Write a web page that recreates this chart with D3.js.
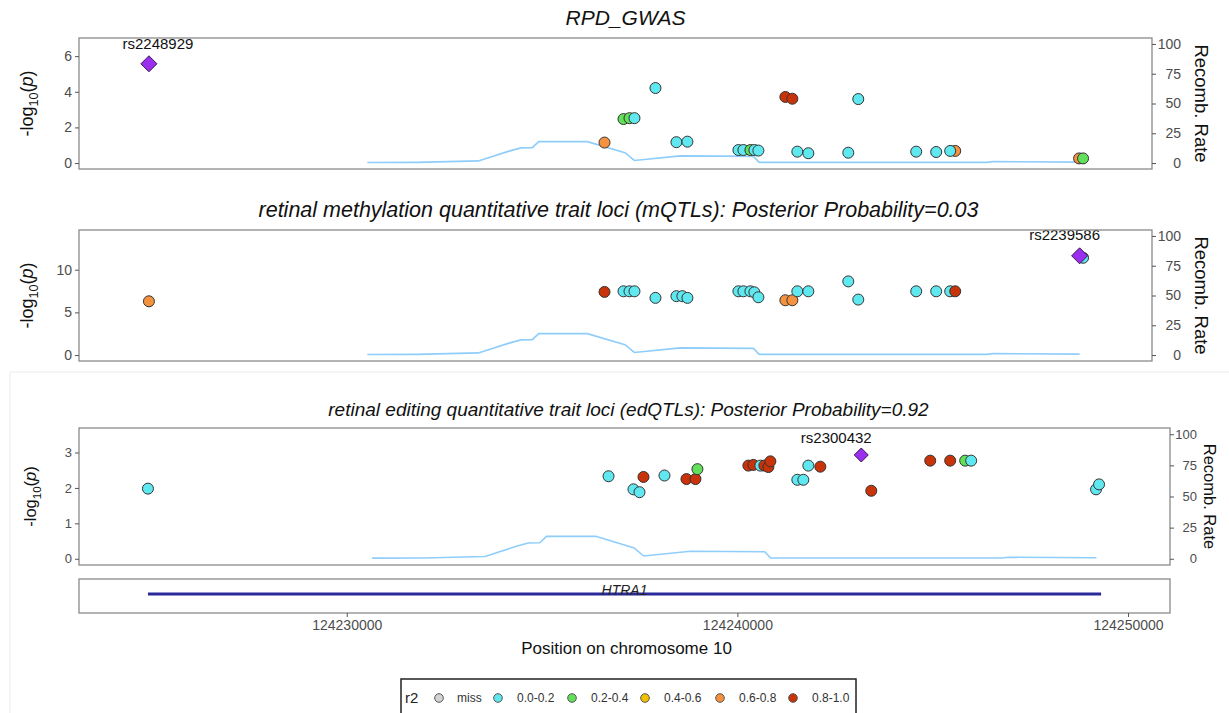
<!DOCTYPE html>
<html><head><meta charset="utf-8">
<script src="https://cdn.jsdelivr.net/npm/d3@7"></script>
<style>
body{margin:0;background:#fff}
svg{display:block;font-family:"Liberation Sans",Arial,Helvetica,sans-serif}
</style>
</head><body>
<svg id="c" width="1229" height="713"></svg>
<script>
// ---------------- DATA ----------------
const r2Levels = ["miss", "0.0-0.2", "0.2-0.4", "0.4-0.6", "0.6-0.8", "0.8-1.0"];
const r2Colors = ["#d3d3d3", "#5fe8ef", "#62e05a", "#f2c200", "#f59240", "#c8330a"];
const leadColor = "#9b2ff0";

// Panel 1: RPD_GWAS
const gwasTitle = "RPD_GWAS";
const gwasPos = [124236824,124237318,124237474,124237604,124238150,124238696,124238982,124240309,124240439,124240621,124240725,124240829,124241531,124241713,124241843,124242129,124243169,124243429,124244937,124245457,124245952,124245821,124249176,124249280];
const gwasLogP = [1.15,2.47,2.52,2.52,4.21,1.17,1.20,0.73,0.73,0.73,0.73,0.70,3.71,3.61,0.64,0.55,0.58,3.59,0.64,0.62,0.68,0.68,0.26,0.26];
const gwasR2 = ["0.6-0.8","0.2-0.4","0.2-0.4","0.0-0.2","0.0-0.2","0.0-0.2","0.0-0.2","0.0-0.2","0.0-0.2","0.2-0.4","0.0-0.2","0.0-0.2","0.8-1.0","0.8-1.0","0.0-0.2","0.0-0.2","0.0-0.2","0.0-0.2","0.0-0.2","0.0-0.2","0.6-0.8","0.0-0.2","0.6-0.8","0.2-0.4"];
const gwasLeadSnp = "rs2248929", gwasLeadPos = 124224966, gwasLeadLogP = 5.57;
const gwasYTicks = [0, 2, 4, 6];

// Panel 2: mQTL
const mqtlTitle = "retinal methylation quantitative trait loci (mQTLs): Posterior Probability=0.03";
const mqtlPos = [124224966,124236824,124237318,124237474,124237604,124238150,124238696,124238850,124238982,124240309,124240439,124240621,124240725,124240829,124241531,124241713,124241843,124242129,124243169,124243429,124244937,124245457,124245821,124245952,124249280];
const mqtlLogP = [6.30,7.40,7.47,7.47,7.47,6.70,6.90,6.90,6.70,7.47,7.47,7.47,7.35,6.77,6.42,6.42,7.47,7.47,8.63,6.50,7.47,7.47,7.47,7.47,11.40];
const mqtlR2 = ["0.6-0.8","0.8-1.0","0.0-0.2","0.0-0.2","0.0-0.2","0.0-0.2","0.0-0.2","0.0-0.2","0.0-0.2","0.0-0.2","0.0-0.2","0.0-0.2","0.0-0.2","0.0-0.2","0.6-0.8","0.6-0.8","0.0-0.2","0.0-0.2","0.0-0.2","0.0-0.2","0.0-0.2","0.0-0.2","0.0-0.2","0.8-1.0","0.0-0.2"];
const mqtlLeadSnp = "rs2239586", mqtlLeadPos = 124249190, mqtlLeadLogP = 11.63;
const mqtlYTicks = [0, 5, 10];

// Panel 3: edQTL
const edqtlTitle = "retinal editing quantitative trait loci (edQTLs): Posterior Probability=0.92";
const edqtlPos = [124224911,124236701,124237340,124237494,124237596,124238133,124238696,124238926,124238977,124240281,124240409,124240588,124240690,124240793,124240844,124241534,124241688,124241816,124242123,124243427,124244936,124245447,124245831,124245984,124249181,124249258];
const edqtlLogP = [1.98,2.33,1.96,1.88,2.31,2.35,2.25,2.25,2.53,2.63,2.65,2.63,2.63,2.59,2.75,2.23,2.23,2.63,2.60,1.92,2.77,2.77,2.77,2.77,1.96,2.10];
const edqtlR2 = ["0.0-0.2","0.0-0.2","0.0-0.2","0.0-0.2","0.8-1.0","0.0-0.2","0.8-1.0","0.8-1.0","0.2-0.4","0.8-1.0","0.8-1.0","0.0-0.2","0.8-1.0","0.8-1.0","0.8-1.0","0.0-0.2","0.0-0.2","0.0-0.2","0.8-1.0","0.8-1.0","0.8-1.0","0.8-1.0","0.2-0.4","0.0-0.2","0.0-0.2","0.0-0.2"];
const edqtlLeadSnp = "rs2300432", edqtlLeadPos = 124243171, edqtlLeadLogP = 2.93;
const edqtlYTicks = [0, 1, 2, 3];

// Recombination rate
const recombPos = [124230650,124231961,124233540,124234340,124234648,124234944,124235112,124236375,124237356,124237600,124238800,124240700,124240850,124246770,124246930,124249190];
const recombRate = [0.5,0.6,1.8,10,12.7,12.9,18,18,8.7,2.2,6,5.6,0.6,0.6,1.2,0.8];
const recombTicks = [0, 25, 50, 75, 100];

// Gene
const geneName = "HTRA1", geneStart = 124224911, geneEnd = 124249310;
const xTicks = [124230000, 124240000, 124250000];
const xDomain = [124223146, 124251074];
const xTitle = "Position on chromosome 10";

// ---------------- LAYOUT ----------------
const svg = d3.select("#c");
const color = d3.scaleOrdinal().domain(r2Levels).range(r2Colors);

// faint frame around lower part
svg.append("rect").attr("x", 10).attr("y", 372).attr("width", 1240).attr("height", 360)
  .attr("fill", "none").attr("stroke", "#ececec").attr("stroke-width", 1);

const panels = [
  {title: gwasTitle, pos: gwasPos, logp: gwasLogP, r2: gwasR2, lead: gwasLeadSnp, leadPos: gwasLeadPos, leadLogP: gwasLeadLogP, yTicks: gwasYTicks,
   top: 38, bottom: 169, left: 79, right: 1152, titleDx: 10, titleY: 25, titleSize: 21, tickSize: 14, ylabSize: 18, ylabX: 33, rlabX: 1195, rlabSize: 18.5,
   rTextX: 29, r: 5.5, dia: 8, labSize: 15, labDx: 9, labY: 49},
  {title: mqtlTitle, pos: mqtlPos, logp: mqtlLogP, r2: mqtlR2, lead: mqtlLeadSnp, leadPos: mqtlLeadPos, leadLogP: mqtlLeadLogP, yTicks: mqtlYTicks,
   top: 230, bottom: 361, left: 79, right: 1152, titleDx: 3, titleY: 217, titleSize: 21.5, tickSize: 14, ylabSize: 18, ylabX: 33, rlabX: 1195, rlabSize: 18.5,
   rTextX: 29, r: 5.5, dia: 8, labSize: 15, labDx: -15, labY: 240},
  {title: edqtlTitle, pos: edqtlPos, logp: edqtlLogP, r2: edqtlR2, lead: edqtlLeadSnp, leadPos: edqtlLeadPos, leadLogP: edqtlLeadLogP, yTicks: edqtlYTicks,
   top: 428, bottom: 565, left: 79, right: 1170, titleDx: 4, titleY: 416, titleSize: 19, tickSize: 13, ylabSize: 16.5, ylabX: 36, rlabX: 1204, rlabSize: 16.5,
   rTextX: 27, r: 5.5, dia: 7, labSize: 15, labDx: -25, labY: 443}
];

panels.forEach(p => {
  const x = d3.scaleLinear().domain(xDomain).range([p.left, p.right]);
  const ymax = Math.max(p.leadLogP, d3.max(p.logp)) * 1.2;
  const y = d3.scaleLinear().domain([-0.05 * ymax, 1.05 * ymax]).range([p.bottom, p.top]);
  const yR = d3.scaleLinear().domain([-5, 105]).range([p.bottom, p.top]);
  const g = svg.append("g");

  // title
  g.append("text").attr("x", (p.left + p.right) / 2 + p.titleDx).attr("y", p.titleY)
    .attr("text-anchor", "middle").attr("font-style", "italic").attr("font-size", p.titleSize)
    .attr("fill", "#111").text(p.title);

  // recombination line
  g.append("path")
    .datum(recombPos.map((d, i) => [d, recombRate[i]]))
    .attr("fill", "none").attr("stroke", "#8fcdfb").attr("stroke-width", 1.6)
    .attr("d", d3.line().x(d => x(d[0])).y(d => yR(d[1])));

  // points
  const pts = p.pos.map((d, i) => ({pos: d, logp: p.logp[i], r2: p.r2[i]}));
  g.selectAll("circle.pt").data(pts).join("circle").attr("class", "pt")
    .attr("cx", d => x(d.pos)).attr("cy", d => y(d.logp)).attr("r", p.r)
    .attr("fill", d => color(d.r2)).attr("stroke", "#333").attr("stroke-width", 1);

  // lead SNP
  const lx = x(p.leadPos), ly = y(p.leadLogP), s = p.dia;
  g.append("path").attr("d", `M${lx},${ly - s}L${lx + s},${ly}L${lx},${ly + s}L${lx - s},${ly}Z`)
    .attr("fill", leadColor).attr("stroke", "#3a1a4a").attr("stroke-width", 1);
  g.append("text").attr("x", lx + p.labDx).attr("y", p.labY).attr("text-anchor", "middle")
    .attr("font-size", p.labSize).attr("fill", "#111").text(p.lead);

  // box
  g.append("rect").attr("x", p.left).attr("y", p.top).attr("width", p.right - p.left).attr("height", p.bottom - p.top)
    .attr("fill", "none").attr("stroke", "#8a8a8a").attr("stroke-width", 1.3);

  // left axis
  const ya = g.append("g").attr("transform", `translate(${p.left},0)`)
    .call(d3.axisLeft(y).tickValues(p.yTicks).tickSize(4).tickPadding(3).tickFormat(d3.format("d")));
  ya.select(".domain").remove();
  ya.selectAll("line").attr("stroke", "#555");
  ya.selectAll("text").attr("fill", "#4d4d4d").attr("font-size", p.tickSize).attr("font-family", null);

  // right axis
  const ra = g.append("g").attr("transform", `translate(${p.right},0)`)
    .call(d3.axisRight(yR).tickValues(recombTicks).tickSize(4).tickFormat(d3.format("d")));
  ra.select(".domain").remove();
  ra.selectAll("line").attr("stroke", "#555");
  ra.selectAll("text").attr("fill", "#4d4d4d").attr("font-size", p.tickSize).attr("font-family", null)
    .attr("text-anchor", "end").attr("x", p.rTextX);

  // y label
  const cy = (p.top + p.bottom) / 2;
  const yl = g.append("text").attr("transform", `translate(${p.ylabX},${cy}) rotate(-90)`)
    .attr("text-anchor", "middle").attr("font-size", p.ylabSize).attr("fill", "#111");
  yl.append("tspan").text("-log");
  yl.append("tspan").attr("font-size", p.ylabSize * 0.7).attr("dy", p.ylabSize * 0.3).text("10");
  yl.append("tspan").attr("dy", -p.ylabSize * 0.3).text("(");
  yl.append("tspan").attr("font-style", "italic").text("p");
  yl.append("tspan").text(")");

  // right label
  g.append("text").attr("transform", `translate(${p.rlabX},${cy}) rotate(90)`)
    .attr("text-anchor", "middle").attr("font-size", p.rlabSize).attr("fill", "#111").text("Recomb. Rate");
});

// ---------------- GENE TRACK ----------------
const gt = {left: 79, right: 1170, top: 579, bottom: 613};
const xg = d3.scaleLinear().domain(xDomain).range([gt.left, gt.right]);
svg.append("line").attr("x1", xg(geneStart)).attr("x2", xg(geneEnd)).attr("y1", 594).attr("y2", 594)
  .attr("stroke", "#2a2a9c").attr("stroke-width", 3);
svg.append("text").attr("x", xg((geneStart + geneEnd) / 2)).attr("y", 595).attr("text-anchor", "middle")
  .attr("font-style", "italic").attr("font-size", 14).attr("fill", "#222").text(geneName);
svg.append("rect").attr("x", gt.left).attr("y", gt.top).attr("width", gt.right - gt.left).attr("height", gt.bottom - gt.top)
  .attr("fill", "none").attr("stroke", "#8a8a8a").attr("stroke-width", 1.3);
const xa = svg.append("g").attr("transform", `translate(0,${gt.bottom})`)
  .call(d3.axisBottom(xg).tickValues(xTicks).tickSize(4).tickFormat(d3.format("d")));
xa.select(".domain").remove();
xa.selectAll("line").attr("stroke", "#555");
xa.selectAll("text").attr("fill", "#4d4d4d").attr("font-size", 14).attr("font-family", null);
svg.append("text").attr("x", (gt.left + gt.right) / 2 + 2).attr("y", 654).attr("text-anchor", "middle")
  .attr("font-size", 17).attr("fill", "#111").text(xTitle);

// ---------------- LEGEND ----------------
const lg = svg.append("g");
lg.append("rect").attr("x", 401).attr("y", 679).attr("width", 455).attr("height", 50)
  .attr("fill", "#fff").attr("stroke", "#222").attr("stroke-width", 1.5);
lg.append("text").attr("x", 405).attr("y", 703).attr("font-size", 15).attr("fill", "#222").text("r2");
const legX = [439, 498, 572, 645, 720, 793];
r2Levels.forEach((lv, i) => {
  lg.append("circle").attr("cx", legX[i]).attr("cy", 698).attr("r", 4.3)
    .attr("fill", color(lv)).attr("stroke", "#555").attr("stroke-width", 1);
  lg.append("text").attr("x", legX[i] + (i === 0 ? 18 : 19)).attr("y", 702).attr("font-size", 12)
    .attr("fill", "#333").text(lv);
});
</script>
</body></html>
